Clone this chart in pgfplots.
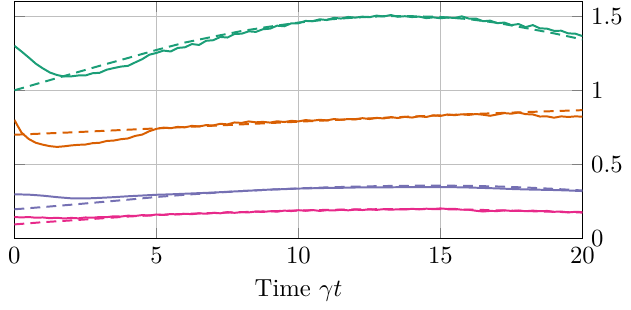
\documentclass[border=0pt]{standalone}
\usepackage{pgfplots}
\pgfplotsset{compat=1.18}
\definecolor{dteal}{HTML}{1B9E77}
\definecolor{dorange}{HTML}{D95F02}
\definecolor{dpurple}{HTML}{7570B3}
\definecolor{dpink}{HTML}{E7298A}
\begin{document}
\begin{tikzpicture}
\begin{axis}[
  scale only axis,
  width=230pt, height=96pt,
  xmin=0, xmax=20, ymin=0, ymax=1.6,
  xtick={0,5,10,15,20},
  ytick={0,0.5,1,1.5},
  yticklabel pos=right,
  grid=major,
  xlabel={Time $\gamma t$},
  every axis plot/.append style={line width=0.8pt},
  mydash/.style={dash pattern=on 4pt off 2.5pt},
]
% green
\addplot[dteal, mydash] coordinates {
(0,1.000)(1,1.055)(2,1.110)(3,1.165)(4,1.218)(5,1.272)(6,1.322)(7,1.362)(8,1.400)(9,1.430)(10,1.457)(11,1.477)(12,1.491)(13,1.500)(14,1.500)(15,1.495)(16,1.480)(17,1.455)(18,1.420)(19,1.384)(20,1.343)};
\addplot[dteal] coordinates {
(0,1.300)(0.25,1.262)(0.5,1.222)(0.75,1.180)(1,1.148)(1.25,1.120)(1.5,1.103)(1.75,1.093)(2,1.094)(2.25,1.100)(2.5,1.100)(2.75,1.115)(3,1.118)(3.25,1.139)(3.5,1.150)(3.75,1.160)(4,1.165)(4.25,1.188)(4.5,1.210)(4.75,1.240)(5,1.252)(5.25,1.268)(5.5,1.262)(5.75,1.286)(6,1.290)(6.25,1.312)(6.5,1.306)(6.75,1.334)(7,1.338)(7.25,1.360)(7.5,1.356)(7.75,1.380)(8,1.382)(8.25,1.398)(8.5,1.394)(8.75,1.412)(9,1.416)(9.25,1.436)(9.5,1.432)(9.75,1.452)(10,1.452)(10.25,1.468)(10.5,1.466)(10.75,1.479)(11,1.474)(11.25,1.489)(11.5,1.484)(11.75,1.495)(12,1.490)(12.25,1.497)(12.5,1.493)(12.75,1.504)(13,1.498)(13.25,1.508)(13.5,1.496)(13.75,1.500)(14,1.494)(14.25,1.497)(14.5,1.487)(14.75,1.492)(15,1.486)(15.25,1.491)(15.5,1.488)(15.75,1.499)(16,1.484)(16.25,1.484)(16.5,1.466)(16.75,1.470)(17,1.453)(17.25,1.457)(17.5,1.440)(17.75,1.447)(18,1.426)(18.25,1.440)(18.5,1.418)(18.75,1.416)(19,1.401)(19.25,1.402)(19.5,1.384)(19.75,1.382)(20,1.366)};
% orange
\addplot[dorange, mydash] coordinates {
(0,0.700)(2,0.716)(4,0.734)(6,0.752)(8,0.770)(10,0.788)(12,0.806)(14,0.823)(16,0.839)(18,0.853)(20,0.866)};
\addplot[dorange] coordinates {
(0,0.800)(0.1,0.765)(0.25,0.715)(0.5,0.672)(0.75,0.646)(1,0.633)(1.25,0.623)(1.5,0.618)(1.75,0.622)(2,0.628)(2.25,0.632)(2.5,0.634)(2.75,0.643)(3,0.646)(3.25,0.658)(3.5,0.661)(3.75,0.670)(4,0.675)(4.25,0.692)(4.5,0.701)(4.75,0.724)(5,0.740)(5.25,0.748)(5.5,0.744)(5.75,0.753)(6,0.750)(6.25,0.760)(6.5,0.756)(6.75,0.765)(7,0.763)(7.25,0.774)(7.5,0.770)(7.75,0.783)(8,0.780)(8.25,0.790)(8.5,0.784)(8.75,0.787)(9,0.782)(9.25,0.791)(9.5,0.786)(9.75,0.794)(10,0.790)(10.25,0.799)(10.5,0.795)(10.75,0.801)(11,0.797)(11.25,0.806)(11.5,0.801)(11.75,0.806)(12,0.803)(12.25,0.812)(12.5,0.806)(12.75,0.814)(13,0.810)(13.25,0.819)(13.5,0.813)(13.75,0.821)(14,0.816)(14.25,0.825)(14.5,0.820)(14.75,0.831)(15,0.827)(15.25,0.837)(15.5,0.832)(15.75,0.838)(16,0.834)(16.25,0.840)(16.5,0.835)(16.75,0.828)(17,0.837)(17.25,0.846)(17.5,0.842)(17.75,0.850)(18,0.839)(18.25,0.837)(18.5,0.823)(18.75,0.824)(19,0.815)(19.25,0.824)(19.5,0.820)(19.75,0.824)(20,0.822)};
% purple
\addplot[dpurple, mydash] coordinates {
(0,0.197)(1,0.212)(2,0.228)(3,0.245)(4,0.262)(5,0.280)(6,0.295)(7,0.308)(8,0.320)(9,0.330)(10,0.338)(11,0.345)(12,0.350)(13,0.354)(14,0.356)(15,0.357)(16,0.355)(17,0.351)(18,0.344)(19,0.335)(20,0.324)};
\addplot[dpurple] coordinates {
(0,0.298)(0.5,0.296)(1,0.289)(1.5,0.279)(2,0.271)(2.5,0.270)(3,0.274)(3.5,0.279)(4,0.285)(4.5,0.290)(5,0.295)(5.5,0.298)(6,0.302)(6.5,0.306)(7,0.310)(7.5,0.315)(8,0.320)(8.5,0.325)(9,0.330)(9.5,0.333)(10,0.337)(10.5,0.339)(11,0.341)(11.5,0.342)(12,0.344)(12.5,0.345)(13,0.345)(13.5,0.346)(14,0.346)(14.5,0.347)(15,0.347)(15.5,0.346)(16,0.344)(16.5,0.341)(17,0.338)(17.5,0.334)(18,0.331)(18.5,0.329)(19,0.327)(19.5,0.324)(20,0.320)};
% pink
\addplot[dpink, mydash] coordinates {
(0,0.095)(1,0.110)(2,0.122)(3,0.135)(4,0.148)(5,0.158)(6,0.166)(7,0.172)(8,0.178)(9,0.184)(10,0.189)(11,0.193)(12,0.196)(13,0.198)(14,0.199)(15,0.198)(16,0.195)(17,0.190)(18,0.185)(19,0.180)(20,0.175)};
\addplot[dpink] coordinates {
(0,0.145)(0.25,0.142)(0.5,0.145)(0.75,0.140)(1,0.142)(1.25,0.137)(1.5,0.140)(1.75,0.135)(2,0.139)(2.25,0.136)(2.5,0.142)(2.75,0.140)(3,0.145)(3.25,0.144)(3.5,0.150)(3.75,0.148)(4,0.154)(4.25,0.152)(4.5,0.158)(4.75,0.155)(5,0.162)(5.25,0.159)(5.5,0.165)(5.75,0.162)(6,0.167)(6.25,0.164)(6.5,0.170)(6.75,0.167)(7,0.173)(7.25,0.170)(7.5,0.178)(7.75,0.173)(8,0.178)(8.25,0.176)(8.5,0.182)(8.75,0.179)(9,0.184)(9.25,0.181)(9.5,0.188)(9.75,0.185)(10,0.191)(10.25,0.187)(10.5,0.192)(10.75,0.186)(11,0.191)(11.25,0.189)(11.5,0.194)(11.75,0.190)(12,0.195)(12.25,0.192)(12.5,0.197)(12.75,0.193)(13,0.198)(13.25,0.194)(13.5,0.197)(13.75,0.196)(14,0.200)(14.25,0.197)(14.5,0.201)(14.75,0.199)(15,0.203)(15.25,0.199)(15.5,0.200)(15.75,0.194)(16,0.194)(16.25,0.187)(16.5,0.182)(16.75,0.186)(17,0.185)(17.25,0.190)(17.5,0.186)(17.75,0.189)(18,0.184)(18.25,0.188)(18.5,0.184)(18.75,0.186)(19,0.180)(19.25,0.182)(19.5,0.176)(19.75,0.180)(20,0.178)};
\end{axis}
\end{tikzpicture}
\end{document}
